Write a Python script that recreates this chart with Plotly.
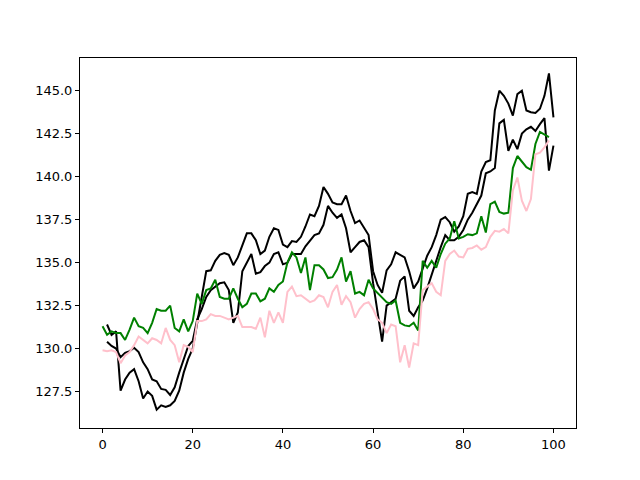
import plotly.graph_objects as go

# x positions
x_green_pink = list(range(0, 100))
x_black = list(range(1, 101))

green = [131.3, 130.8, 131.0, 130.9, 130.9, 130.5, 131.1, 131.8, 131.3, 131.2,
         130.9, 131.5, 132.3, 132.2, 132.2, 132.5, 131.2, 131.0, 131.7, 131.0,
         131.6, 133.2, 132.6, 133.4, 133.5, 134.0, 133.0, 132.9, 132.9, 133.5,
         132.9, 132.4, 132.6, 133.2, 133.2, 132.75, 132.9, 133.5, 133.3, 133.7,
         133.9, 135.0, 135.6, 135.3, 134.4, 135.3, 133.4, 134.85, 134.85, 134.6,
         134.1, 134.15, 134.6, 135.3, 133.9, 134.5, 133.2, 133.3, 133.1, 134.0,
         133.5, 133.25, 133.0, 132.7, 132.6, 132.8, 131.5, 131.35, 131.3, 131.5,
         131.05, 135.1, 134.7, 135.1, 134.7, 135.5, 136.1, 136.4, 137.4, 136.4,
         136.5, 136.65, 136.6, 136.7, 137.7, 136.75, 138.4, 138.55, 137.95, 137.85,
         137.9, 140.5, 141.2, 140.9, 140.55, 140.4, 141.9, 142.6, 142.45, 142.3]

pink = [129.9, 129.85, 129.9, 129.8, 129.15, 129.6, 129.8, 130.2, 130.7, 130.5,
        130.3, 130.6, 130.5, 130.3, 131.2, 130.5, 130.2, 129.2, 130.2, 130.1,
        129.8, 131.6, 131.6, 131.7, 132.0, 131.9, 131.9, 131.8, 131.7, 131.8,
        131.9, 131.25, 131.25, 131.25, 131.15, 131.8, 130.65, 132.2, 131.5, 132.1,
        131.5, 133.3, 133.6, 133.05, 133.1, 132.9, 132.7, 132.8, 133.1, 133.0,
        132.4, 133.3, 133.7, 132.55, 133.05, 132.7, 131.8, 132.3, 132.6, 132.7,
        132.3, 131.7, 131.5, 130.9, 131.4, 131.3, 129.2, 130.2, 128.9, 130.3,
        130.2, 133.4, 133.6, 133.8, 133.3, 133.1, 135.1, 135.5, 135.7, 135.35,
        135.3, 135.8, 135.85, 136.0, 135.75, 135.9, 136.5, 136.85, 136.8, 136.95,
        136.7, 139.2, 139.95, 138.6, 138.0, 138.7, 141.3, 141.4, 141.7, 142.1]

black_a = [131.4, 130.8, 131.0, 127.55, 128.2, 128.6, 128.8, 128.1, 127.1, 127.5,
           127.25, 126.45, 126.7, 126.6, 126.7, 126.95, 127.55, 128.6, 129.4, 130.0,
           131.5, 132.9, 134.5, 134.55, 135.1, 135.45, 135.55, 135.45, 134.85, 135.3,
           136.0, 136.7, 136.7, 136.3, 135.5, 135.7, 136.5, 137.0, 136.9, 136.05,
           135.9, 136.25, 136.2, 136.5, 137.1, 137.8, 137.7, 138.3, 139.4, 139.0,
           138.5, 138.4, 138.4, 138.9, 138.0, 137.3, 137.45, 137.05, 136.6, 134.5,
           133.7, 133.25, 134.55, 134.9, 135.6, 135.45, 135.3, 134.5, 133.5, 133.9,
           134.7, 135.4, 135.9, 136.6, 137.5, 137.65, 137.35, 136.8, 137.1, 137.7,
           139.0, 139.1, 139.0, 140.3, 140.85, 140.95, 143.85, 145.0, 144.7, 144.25,
           143.55, 144.8, 145.0, 143.85, 143.75, 143.7, 143.95, 144.7, 146.0, 143.45]

black_b = [130.4, 130.15, 130.0, 129.5, 129.75, 129.85, 130.05, 129.8, 129.2, 128.8,
           128.2, 128.1, 127.65, 127.6, 127.3, 127.75, 128.6, 129.4, 130.15, 130.45,
           131.7, 132.3, 133.0, 133.4, 133.6, 133.8, 133.85, 133.4, 131.5, 132.1,
           134.5, 135.0, 135.5, 134.35, 134.45, 134.8, 135.0, 135.5, 135.6, 134.9,
           135.0, 135.5, 135.5, 135.5, 135.95, 136.3, 136.6, 136.7, 137.2, 138.3,
           137.9, 137.6, 137.8, 137.0, 135.6, 135.9, 136.2, 136.3, 135.9, 133.8,
           132.0, 130.4, 132.5, 132.7, 132.9, 133.95, 134.2, 132.2, 131.9, 132.4,
           132.8, 133.5, 134.3, 135.2, 135.9, 136.6, 136.3, 136.3, 136.5, 136.9,
           137.5, 137.9, 138.4, 138.9, 140.2, 140.3, 140.5, 143.1, 143.3, 141.5,
           142.15, 141.6, 142.5, 142.75, 142.9, 142.65, 143.05, 143.4, 140.35, 141.8]

x_ticks = [0, 20, 40, 60, 80, 100]
y_ticks = [127.5, 130.0, 132.5, 135.0, 137.5, 140.0, 142.5, 145.0]

fig = go.Figure()
fig.add_trace(go.Scatter(x=x_black, y=black_a, mode="lines",
                         line=dict(color="black", width=2)))
fig.add_trace(go.Scatter(x=x_black, y=black_b, mode="lines",
                         line=dict(color="black", width=2)))
fig.add_trace(go.Scatter(x=x_green_pink, y=green, mode="lines",
                         line=dict(color="green", width=2)))
fig.add_trace(go.Scatter(x=x_green_pink, y=pink, mode="lines",
                         line=dict(color="pink", width=2)))

axis_common = dict(showline=True, linecolor="black", linewidth=1, mirror=True,
                   showgrid=False, zeroline=False, ticks="outside", ticklen=4,
                   tickwidth=1, tickcolor="black",
                   tickfont=dict(family="DejaVu Sans", size=13, color="black"))

fig.update_layout(
    width=640, height=480,
    margin=dict(l=80, r=64, t=58, b=52),
    paper_bgcolor="white", plot_bgcolor="white",
    showlegend=False,
    hovermode=False,
    xaxis=dict(range=[-5, 105], tickvals=x_ticks,
               ticktext=[str(v) for v in x_ticks], **axis_common),
    yaxis=dict(range=[125.38, 146.9], tickvals=y_ticks,
               ticktext=[f"{v:.1f}" for v in y_ticks], **axis_common),
)

fig.write_html("out.html",
               config={"displayModeBar": False, "staticPlot": True},
               post_script="document.body.style.margin='0';document.body.style.padding='0';")
